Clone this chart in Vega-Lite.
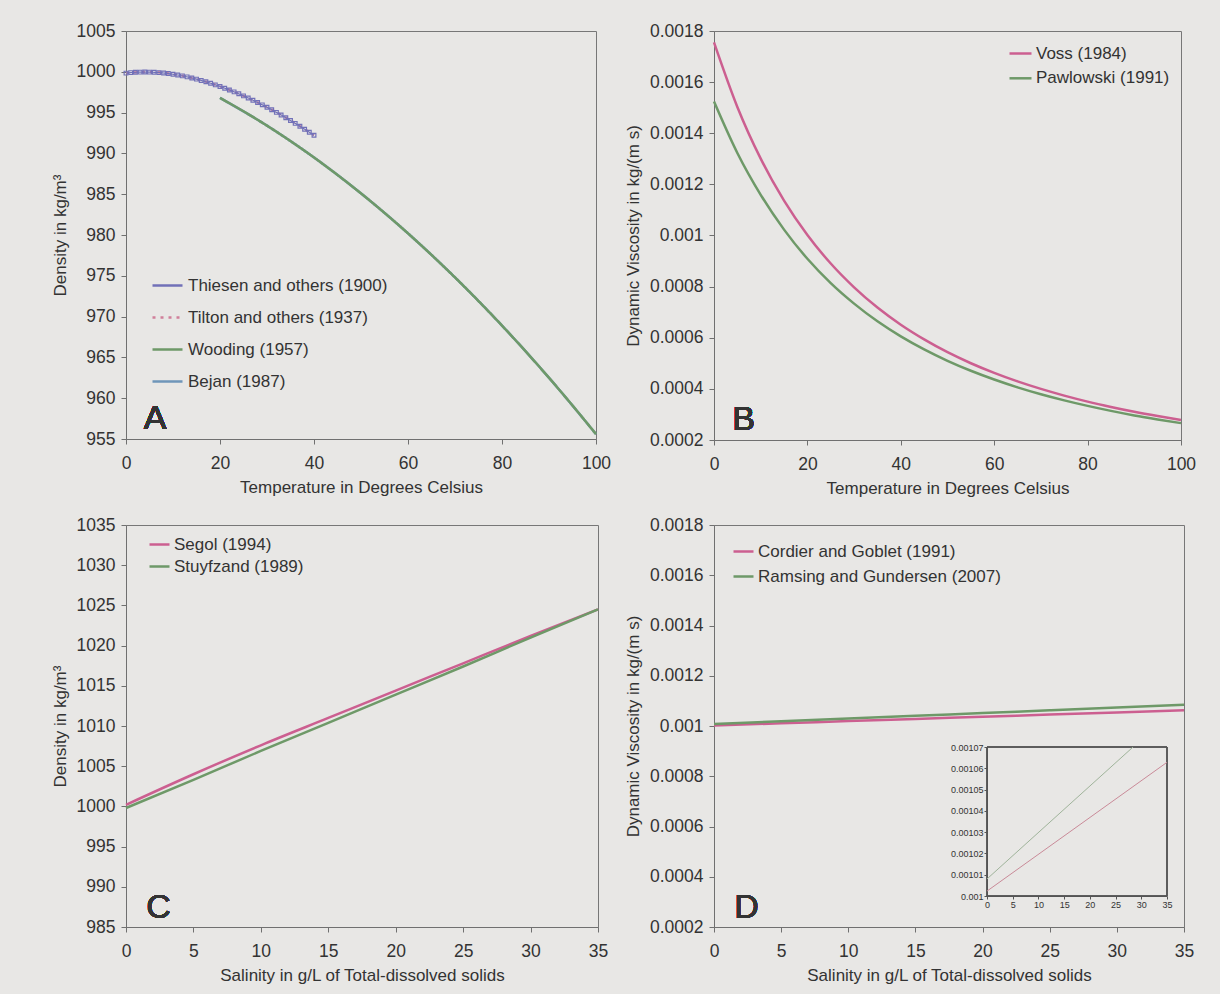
{
  "$schema": "https://vega.github.io/schema/vega-lite/v6.json",
  "background": "#e8e7e5",
  "padding": {"left": 50, "top": 21, "right": 26, "bottom": 10},
  "config": {
    "font": "Liberation Sans",
    "view": {"stroke": "#777", "strokeWidth": 1},
    "axis": {
      "grid": false,
      "labelFlush": false,
      "labelOverlap": false,
      "domainColor": "#707070",
      "tickColor": "#707070",
      "tickSize": 5,
      "labelFont": "Liberation Sans",
      "labelFontSize": 17.5,
      "labelColor": "#333",
      "titleFont": "Liberation Sans",
      "titleFontSize": 17,
      "titleFontWeight": "normal",
      "titleColor": "#333"
    },
    "axisX": {"labelPadding": 10, "titlePadding": 8},
    "axisY": {"labelPadding": 6, "titlePadding": 7},
    "legend": {
      "orient": "none",
      "symbolType": "stroke",
      "labelFont": "Liberation Sans",
      "labelFontSize": 17,
      "labelColor": "#333",
      "labelLimit": 0,
      "padding": 0,
      "symbolStrokeWidth": 2.5,
      "labelOffset": 3,
      "title": null
    },
    "line": {"strokeWidth": 2.5, "interpolate": "monotone"}
  },
  "datasets": {
    "a": [
      {"s": "Thiesen and others (1900)", "T": 0, "v": 999.84},
      {"s": "Thiesen and others (1900)", "T": 1, "v": 999.90},
      {"s": "Thiesen and others (1900)", "T": 2, "v": 999.94},
      {"s": "Thiesen and others (1900)", "T": 3, "v": 999.96},
      {"s": "Thiesen and others (1900)", "T": 4, "v": 999.97},
      {"s": "Thiesen and others (1900)", "T": 5, "v": 999.96},
      {"s": "Thiesen and others (1900)", "T": 6, "v": 999.94},
      {"s": "Thiesen and others (1900)", "T": 7, "v": 999.90},
      {"s": "Thiesen and others (1900)", "T": 8, "v": 999.85},
      {"s": "Thiesen and others (1900)", "T": 9, "v": 999.78},
      {"s": "Thiesen and others (1900)", "T": 10, "v": 999.70},
      {"s": "Thiesen and others (1900)", "T": 11, "v": 999.61},
      {"s": "Thiesen and others (1900)", "T": 12, "v": 999.50},
      {"s": "Thiesen and others (1900)", "T": 13, "v": 999.38},
      {"s": "Thiesen and others (1900)", "T": 14, "v": 999.24},
      {"s": "Thiesen and others (1900)", "T": 15, "v": 999.10},
      {"s": "Thiesen and others (1900)", "T": 16, "v": 998.94},
      {"s": "Thiesen and others (1900)", "T": 17, "v": 998.77},
      {"s": "Thiesen and others (1900)", "T": 18, "v": 998.60},
      {"s": "Thiesen and others (1900)", "T": 19, "v": 998.40},
      {"s": "Thiesen and others (1900)", "T": 20, "v": 998.21},
      {"s": "Thiesen and others (1900)", "T": 21, "v": 997.99},
      {"s": "Thiesen and others (1900)", "T": 22, "v": 997.77},
      {"s": "Thiesen and others (1900)", "T": 23, "v": 997.54},
      {"s": "Thiesen and others (1900)", "T": 24, "v": 997.30},
      {"s": "Thiesen and others (1900)", "T": 25, "v": 997.05},
      {"s": "Thiesen and others (1900)", "T": 26, "v": 996.79},
      {"s": "Thiesen and others (1900)", "T": 27, "v": 996.52},
      {"s": "Thiesen and others (1900)", "T": 28, "v": 996.24},
      {"s": "Thiesen and others (1900)", "T": 29, "v": 995.95},
      {"s": "Thiesen and others (1900)", "T": 30, "v": 995.65},
      {"s": "Thiesen and others (1900)", "T": 31, "v": 995.34},
      {"s": "Thiesen and others (1900)", "T": 32, "v": 995.03},
      {"s": "Thiesen and others (1900)", "T": 33, "v": 994.71},
      {"s": "Thiesen and others (1900)", "T": 34, "v": 994.37},
      {"s": "Thiesen and others (1900)", "T": 35, "v": 994.03},
      {"s": "Thiesen and others (1900)", "T": 36, "v": 993.68},
      {"s": "Thiesen and others (1900)", "T": 37, "v": 993.33},
      {"s": "Thiesen and others (1900)", "T": 38, "v": 992.97},
      {"s": "Thiesen and others (1900)", "T": 39, "v": 992.59},
      {"s": "Thiesen and others (1900)", "T": 40, "v": 992.22},
      {"s": "Tilton and others (1937)", "T": 0, "v": 999.86},
      {"s": "Tilton and others (1937)", "T": 5, "v": 999.98},
      {"s": "Tilton and others (1937)", "T": 10, "v": 999.72},
      {"s": "Tilton and others (1937)", "T": 15, "v": 999.12},
      {"s": "Tilton and others (1937)", "T": 20, "v": 998.22},
      {"s": "Tilton and others (1937)", "T": 25, "v": 997.06},
      {"s": "Tilton and others (1937)", "T": 30, "v": 995.66},
      {"s": "Tilton and others (1937)", "T": 35, "v": 994.05},
      {"s": "Tilton and others (1937)", "T": 40, "v": 992.23},
      {"s": "Wooding (1957)", "T": 20, "v": 996.8},
      {"s": "Wooding (1957)", "T": 25, "v": 995.16},
      {"s": "Wooding (1957)", "T": 30, "v": 993.4},
      {"s": "Wooding (1957)", "T": 35, "v": 991.51},
      {"s": "Wooding (1957)", "T": 40, "v": 989.5},
      {"s": "Wooding (1957)", "T": 45, "v": 987.36},
      {"s": "Wooding (1957)", "T": 50, "v": 985.1},
      {"s": "Wooding (1957)", "T": 55, "v": 982.71},
      {"s": "Wooding (1957)", "T": 60, "v": 980.2},
      {"s": "Wooding (1957)", "T": 65, "v": 977.56},
      {"s": "Wooding (1957)", "T": 70, "v": 974.8},
      {"s": "Wooding (1957)", "T": 75, "v": 971.91},
      {"s": "Wooding (1957)", "T": 80, "v": 968.9},
      {"s": "Wooding (1957)", "T": 85, "v": 965.76},
      {"s": "Wooding (1957)", "T": 90, "v": 962.5},
      {"s": "Wooding (1957)", "T": 95, "v": 959.11},
      {"s": "Wooding (1957)", "T": 100, "v": 955.6},
      {"s": "Bejan (1987)", "T": 20, "v": 996.8},
      {"s": "Bejan (1987)", "T": 30, "v": 993.4},
      {"s": "Bejan (1987)", "T": 40, "v": 989.5},
      {"s": "Bejan (1987)", "T": 50, "v": 985.1},
      {"s": "Bejan (1987)", "T": 60, "v": 980.2},
      {"s": "Bejan (1987)", "T": 70, "v": 974.8},
      {"s": "Bejan (1987)", "T": 80, "v": 968.9},
      {"s": "Bejan (1987)", "T": 90, "v": 962.5},
      {"s": "Bejan (1987)", "T": 100, "v": 955.6}
    ],
    "b": [
      {"s": "Voss (1984)", "T": 0, "v": 0.0017555},
      {"s": "Voss (1984)", "T": 5, "v": 0.001503},
      {"s": "Voss (1984)", "T": 10, "v": 0.0013007},
      {"s": "Voss (1984)", "T": 15, "v": 0.0011367},
      {"s": "Voss (1984)", "T": 20, "v": 0.0010021},
      {"s": "Voss (1984)", "T": 25, "v": 0.0008903},
      {"s": "Voss (1984)", "T": 30, "v": 0.0007972},
      {"s": "Voss (1984)", "T": 35, "v": 0.000718},
      {"s": "Voss (1984)", "T": 40, "v": 0.0006509},
      {"s": "Voss (1984)", "T": 45, "v": 0.0005935},
      {"s": "Voss (1984)", "T": 50, "v": 0.0005434},
      {"s": "Voss (1984)", "T": 55, "v": 0.0005003},
      {"s": "Voss (1984)", "T": 60, "v": 0.0004625},
      {"s": "Voss (1984)", "T": 65, "v": 0.0004292},
      {"s": "Voss (1984)", "T": 70, "v": 0.0003998},
      {"s": "Voss (1984)", "T": 75, "v": 0.0003737},
      {"s": "Voss (1984)", "T": 80, "v": 0.0003502},
      {"s": "Voss (1984)", "T": 85, "v": 0.0003294},
      {"s": "Voss (1984)", "T": 90, "v": 0.0003105},
      {"s": "Voss (1984)", "T": 95, "v": 0.0002937},
      {"s": "Voss (1984)", "T": 100, "v": 0.0002782},
      {"s": "Pawlowski (1991)", "T": 0, "v": 0.0015238},
      {"s": "Pawlowski (1991)", "T": 5, "v": 0.0013226},
      {"s": "Pawlowski (1991)", "T": 10, "v": 0.0011589},
      {"s": "Pawlowski (1991)", "T": 15, "v": 0.001023},
      {"s": "Pawlowski (1991)", "T": 20, "v": 0.0009089},
      {"s": "Pawlowski (1991)", "T": 25, "v": 0.0008137},
      {"s": "Pawlowski (1991)", "T": 30, "v": 0.0007334},
      {"s": "Pawlowski (1991)", "T": 35, "v": 0.0006642},
      {"s": "Pawlowski (1991)", "T": 40, "v": 0.0006053},
      {"s": "Pawlowski (1991)", "T": 45, "v": 0.0005543},
      {"s": "Pawlowski (1991)", "T": 50, "v": 0.0005097},
      {"s": "Pawlowski (1991)", "T": 55, "v": 0.0004708},
      {"s": "Pawlowski (1991)", "T": 60, "v": 0.0004366},
      {"s": "Pawlowski (1991)", "T": 65, "v": 0.000406},
      {"s": "Pawlowski (1991)", "T": 70, "v": 0.000379},
      {"s": "Pawlowski (1991)", "T": 75, "v": 0.000355},
      {"s": "Pawlowski (1991)", "T": 80, "v": 0.0003334},
      {"s": "Pawlowski (1991)", "T": 85, "v": 0.0003139},
      {"s": "Pawlowski (1991)", "T": 90, "v": 0.0002962},
      {"s": "Pawlowski (1991)", "T": 95, "v": 0.0002805},
      {"s": "Pawlowski (1991)", "T": 100, "v": 0.000266}
    ],
    "c": [
      {"s": "Segol (1994)", "S": 0, "v": 1000.2},
      {"s": "Segol (1994)", "S": 5, "v": 1004.0},
      {"s": "Segol (1994)", "S": 10, "v": 1007.6},
      {"s": "Segol (1994)", "S": 15, "v": 1011.0},
      {"s": "Segol (1994)", "S": 20, "v": 1014.4},
      {"s": "Segol (1994)", "S": 25, "v": 1017.8},
      {"s": "Segol (1994)", "S": 30, "v": 1021.2},
      {"s": "Segol (1994)", "S": 35, "v": 1024.5},
      {"s": "Stuyfzand (1989)", "S": 0, "v": 999.8},
      {"s": "Stuyfzand (1989)", "S": 5, "v": 1003.3},
      {"s": "Stuyfzand (1989)", "S": 10, "v": 1006.9},
      {"s": "Stuyfzand (1989)", "S": 15, "v": 1010.4},
      {"s": "Stuyfzand (1989)", "S": 20, "v": 1013.9},
      {"s": "Stuyfzand (1989)", "S": 25, "v": 1017.4},
      {"s": "Stuyfzand (1989)", "S": 30, "v": 1021.0},
      {"s": "Stuyfzand (1989)", "S": 35, "v": 1024.5}
    ],
    "d": [
      {"s": "Cordier and Goblet (1991)", "S": 0, "v": 0.0010023},
      {"s": "Cordier and Goblet (1991)", "S": 5, "v": 0.0010109},
      {"s": "Cordier and Goblet (1991)", "S": 10, "v": 0.0010196},
      {"s": "Cordier and Goblet (1991)", "S": 15, "v": 0.0010282},
      {"s": "Cordier and Goblet (1991)", "S": 20, "v": 0.0010369},
      {"s": "Cordier and Goblet (1991)", "S": 25, "v": 0.0010455},
      {"s": "Cordier and Goblet (1991)", "S": 30, "v": 0.0010542},
      {"s": "Cordier and Goblet (1991)", "S": 35, "v": 0.0010628},
      {"s": "Ramsing and Gundersen (2007)", "S": 0, "v": 0.001008},
      {"s": "Ramsing and Gundersen (2007)", "S": 5, "v": 0.0010189},
      {"s": "Ramsing and Gundersen (2007)", "S": 10, "v": 0.0010298},
      {"s": "Ramsing and Gundersen (2007)", "S": 15, "v": 0.0010407},
      {"s": "Ramsing and Gundersen (2007)", "S": 20, "v": 0.0010516},
      {"s": "Ramsing and Gundersen (2007)", "S": 25, "v": 0.0010625},
      {"s": "Ramsing and Gundersen (2007)", "S": 30, "v": 0.0010734},
      {"s": "Ramsing and Gundersen (2007)", "S": 35, "v": 0.0010843}
    ],
    "dinset": [
      {"s": "Cordier and Goblet (1991)", "S": 0, "v": 0.0010023},
      {"s": "Cordier and Goblet (1991)", "S": 35, "v": 0.0010628},
      {"s": "Ramsing and Gundersen (2007)", "S": 0, "v": 0.001008},
      {"s": "Ramsing and Gundersen (2007)", "S": 28.4, "v": 0.00107}
    ]
  },
  "columns": 2,
  "spacing": {"row": 85, "column": 116},
  "bounds": "flush",
  "align": "each",
  "resolve": {
    "scale": {"color": "independent", "strokeDash": "independent"},
    "legend": {"color": "independent", "strokeDash": "independent"}
  },
  "concat": [
    {
      "width": 470,
      "height": 408,
      "data": {"name": "a"},
      "encoding": {
        "x": {"field": "T", "type": "quantitative", "scale": {"domain": [0, 100], "nice": false}, "axis": {"values": [0, 20, 40, 60, 80, 100], "title": "Temperature in Degrees Celsius"}},
        "y": {"field": "v", "type": "quantitative", "scale": {"domain": [955, 1005], "nice": false, "zero": false}, "axis": {"values": [955, 960, 965, 970, 975, 980, 985, 990, 995, 1000, 1005], "format": "d", "title": "Density in kg/m³"}}
      },
      "layer": [
        {
          "transform": [{"filter": "datum.s === 'Tilton and others (1937)' || datum.s === 'Bejan (1987)'"}],
          "mark": {"type": "line"},
          "encoding": {
            "color": {"field": "s", "type": "nominal", "scale": {"domain": ["Thiesen and others (1900)", "Tilton and others (1937)", "Wooding (1957)", "Bejan (1987)"], "range": ["#7171b8", "#d0809a", "#6e9968", "#6f96b9"]}, "legend": {"legendX": 25, "legendY": 238, "symbolSize": 900, "rowPadding": 7, "labelOffset": 4}},
            "strokeDash": {"field": "s", "type": "nominal", "scale": {"domain": ["Thiesen and others (1900)", "Tilton and others (1937)", "Wooding (1957)", "Bejan (1987)"], "range": [[1, 0], [3, 5], [1, 0], [1, 0]]}, "legend": {"legendX": 25, "legendY": 238, "symbolSize": 900, "rowPadding": 7, "labelOffset": 4}}
          }
        },
        {
          "transform": [{"filter": "datum.s === 'Wooding (1957)'"}],
          "mark": {"type": "line"},
          "encoding": {
            "color": {"field": "s", "type": "nominal"},
            "strokeDash": {"field": "s", "type": "nominal"}
          }
        },
        {
          "transform": [{"filter": "datum.s === 'Thiesen and others (1900)'"}],
          "mark": {"type": "line", "strokeWidth": 1.2},
          "encoding": {
            "color": {"field": "s", "type": "nominal"},
            "strokeDash": {"field": "s", "type": "nominal"}
          }
        },
        {
          "transform": [{"filter": "datum.s === 'Thiesen and others (1900)'"}],
          "mark": {"type": "point", "shape": "square", "size": 14, "filled": false, "strokeWidth": 1.2, "opacity": 1},
          "encoding": {
            "color": {"field": "s", "type": "nominal"}
          }
        },
        {
          "mark": {"type": "text", "fontSize": 34, "fontWeight": "normal", "align": "left", "baseline": "alphabetic", "color": "#333"},
          "encoding": {"x": {"datum": 3.8}, "y": {"datum": 956.2}, "text": {"value": "A"}}
        }
      ]
    },
    {
      "width": 467,
      "height": 409,
      "data": {"name": "b"},
      "encoding": {
        "x": {"field": "T", "type": "quantitative", "scale": {"domain": [0, 100], "nice": false}, "axis": {"values": [0, 20, 40, 60, 80, 100], "title": "Temperature in Degrees Celsius"}},
        "y": {"field": "v", "type": "quantitative", "scale": {"domain": [0.0002, 0.0018], "nice": false, "zero": false}, "axis": {"values": [0.0002, 0.0004, 0.0006, 0.0008, 0.001, 0.0012, 0.0014, 0.0016, 0.0018], "format": ".4~f", "title": "Dynamic Viscosity in kg/(m s)"}}
      },
      "layer": [
        {
          "mark": {"type": "line"},
          "encoding": {
            "color": {"field": "s", "type": "nominal", "scale": {"domain": ["Voss (1984)", "Pawlowski (1991)"], "range": ["#cc5f90", "#6e9968"]}, "legend": {"legendX": 294, "legendY": 10, "symbolSize": 484, "rowPadding": 3.8, "labelOffset": 3}}
          }
        },
        {
          "mark": {"type": "text", "fontSize": 34, "fontWeight": "normal", "align": "left", "baseline": "alphabetic", "color": "#333"},
          "encoding": {"x": {"datum": 3.9}, "y": {"datum": 0.000239}, "text": {"value": "B"}}
        }
      ]
    },
    {
      "width": 472,
      "height": 402,
      "data": {"name": "c"},
      "encoding": {
        "x": {"field": "S", "type": "quantitative", "scale": {"domain": [0, 35], "nice": false}, "axis": {"values": [0, 5, 10, 15, 20, 25, 30, 35], "title": "Salinity in g/L of Total-dissolved solids"}},
        "y": {"field": "v", "type": "quantitative", "scale": {"domain": [985, 1035], "nice": false, "zero": false}, "axis": {"values": [985, 990, 995, 1000, 1005, 1010, 1015, 1020, 1025, 1030, 1035], "format": "d", "title": "Density in kg/m³"}}
      },
      "layer": [
        {
          "mark": {"type": "line"},
          "encoding": {
            "color": {"field": "s", "type": "nominal", "scale": {"domain": ["Segol (1994)", "Stuyfzand (1989)"], "range": ["#cc5f90", "#6e9968"]}, "legend": {"legendX": 22, "legendY": 8, "symbolSize": 400, "rowPadding": 2, "labelOffset": 3}}
          }
        },
        {
          "mark": {"type": "text", "fontSize": 34, "fontWeight": "normal", "align": "left", "baseline": "alphabetic", "color": "#333"},
          "encoding": {"x": {"datum": 1.5}, "y": {"datum": 986.1}, "text": {"value": "C"}}
        }
      ]
    },
    {
      "width": 470,
      "height": 402,
      "layer": [
        {
          "data": {"name": "d"},
          "encoding": {
            "x": {"field": "S", "type": "quantitative", "scale": {"domain": [0, 35], "nice": false}, "axis": {"values": [0, 5, 10, 15, 20, 25, 30, 35], "title": "Salinity in g/L of Total-dissolved solids", "orient": "bottom"}},
            "y": {"field": "v", "type": "quantitative", "scale": {"domain": [0.0002, 0.0018], "nice": false, "zero": false}, "axis": {"values": [0.0002, 0.0004, 0.0006, 0.0008, 0.001, 0.0012, 0.0014, 0.0016, 0.0018], "format": ".4~f", "title": "Dynamic Viscosity in kg/(m s)", "orient": "left"}}
          },
          "layer": [
            {
              "mark": {"type": "line"},
              "encoding": {
                "color": {"field": "s", "type": "nominal", "scale": {"domain": ["Cordier and Goblet (1991)", "Ramsing and Gundersen (2007)"], "range": ["#cc5f90", "#6e9968"]}, "legend": {"legendX": 18, "legendY": 15, "symbolSize": 400, "rowPadding": 5, "labelOffset": 3}}
              }
            },
            {
              "mark": {"type": "text", "fontSize": 34, "fontWeight": "normal", "align": "left", "baseline": "alphabetic", "color": "#333"},
              "encoding": {"x": {"datum": 1.5}, "y": {"datum": 0.000236}, "text": {"value": "D"}}
            }
          ]
        },
        {
          "data": {"name": "dinset"},
          "encoding": {
            "x": {"field": "S", "type": "quantitative", "scale": {"domain": [0, 35], "nice": false, "range": [273, 453]}, "axis": {"orient": "bottom", "offset": -31, "values": [0, 5, 10, 15, 20, 25, 30, 35], "title": null, "labelFontSize": 9, "tickSize": 3, "labelPadding": 1, "domainColor": "#555", "tickColor": "#555"}},
            "y": {"field": "v", "type": "quantitative", "scale": {"domain": [0.001, 0.00107], "nice": false, "zero": false, "range": [371, 222]}, "axis": {"orient": "left", "offset": -273, "values": [0.001, 0.00101, 0.00102, 0.00103, 0.00104, 0.00105, 0.00106, 0.00107], "format": ".5~f", "title": null, "labelFontSize": 9, "tickSize": 3, "labelPadding": 1, "domainColor": "#555", "tickColor": "#555"}}
          },
          "layer": [
            {
              "mark": {"type": "rect", "fill": null, "stroke": "#555", "strokeWidth": 1},
              "encoding": {"x": {"datum": 0}, "x2": {"datum": 35}, "y": {"datum": 0.001}, "y2": {"datum": 0.00107}}
            },
            {
              "mark": {"type": "line", "strokeWidth": 1, "interpolate": "linear"},
              "encoding": {
                "color": {"field": "s", "type": "nominal", "scale": {"domain": ["Cordier and Goblet (1991)", "Ramsing and Gundersen (2007)"], "range": ["#c98a98", "#9fb39a"]}, "legend": null}
              }
            }
          ]
        }
      ],
      "resolve": {
        "scale": {"x": "independent", "y": "independent", "color": "independent"},
        "axis": {"x": "independent", "y": "independent"},
        "legend": {"color": "independent"}
      }
    }
  ]
}
